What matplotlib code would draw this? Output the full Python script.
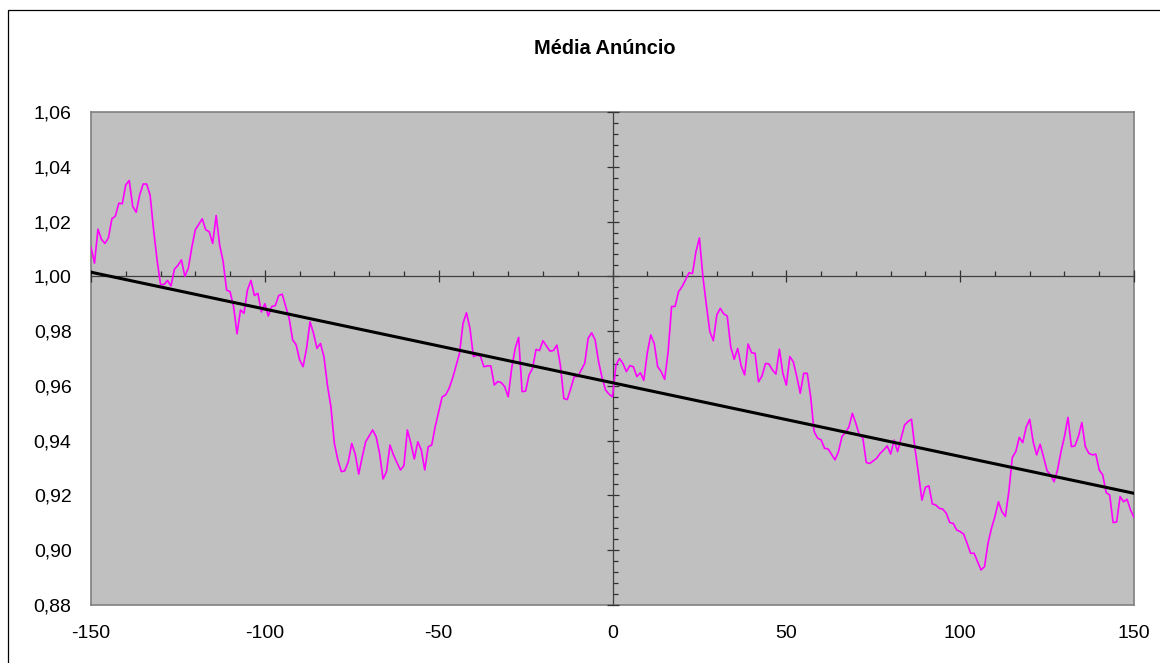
import matplotlib.pyplot as plt
import matplotlib.ticker as mticker
from matplotlib.patches import Rectangle
import numpy as np

plt.rcParams['font.family'] = ['Liberation Sans', 'DejaVu Sans']

# days relative to the announcement
dias = np.arange(-150, 151)

# average series
media = [
    1.0106, 1.0048, 1.0172, 1.0135, 1.0120, 1.0140, 1.0210, 1.0220, 1.0267, 1.0265,
    1.0334, 1.0350, 1.0255, 1.0234, 1.0297, 1.0337, 1.0337, 1.0297, 1.0170, 1.0060,
    0.9970, 0.9970, 0.9985, 0.9965, 1.0026, 1.0040, 1.0060, 1.0000, 1.0030, 1.0106,
    1.0170, 1.0190, 1.0210, 1.0170, 1.0163, 1.0120, 1.0222, 1.0115, 1.0054, 0.9950,
    0.9944, 0.9890, 0.9790, 0.9877, 0.9865, 0.9950, 0.9985, 0.9930, 0.9938, 0.9870,
    0.9900, 0.9855, 0.9890, 0.9893, 0.9930, 0.9935, 0.9890, 0.9847, 0.9768, 0.9750,
    0.9695, 0.9670, 0.9737, 0.9834, 0.9792, 0.9737, 0.9755, 0.9707, 0.9603, 0.9524,
    0.9390, 0.9330, 0.9287, 0.9290, 0.9323, 0.9390, 0.9351, 0.9278, 0.9340, 0.9396,
    0.9417, 0.9439, 0.9415, 0.9354, 0.9260, 0.9287, 0.9384, 0.9348, 0.9320, 0.9293,
    0.9309, 0.9439, 0.9390, 0.9333, 0.9396, 0.9366, 0.9293, 0.9378, 0.9384, 0.9451,
    0.9506, 0.9560, 0.9567, 0.9591, 0.9628, 0.9673, 0.9719, 0.9828, 0.9867, 0.9810,
    0.9707, 0.9712, 0.9709, 0.9670, 0.9673, 0.9673, 0.9603, 0.9616, 0.9612, 0.9597,
    0.9560, 0.9664, 0.9737, 0.9777, 0.9579, 0.9581, 0.9640, 0.9664, 0.9733, 0.9729,
    0.9765, 0.9746, 0.9727, 0.9729, 0.9749, 0.9676, 0.9554, 0.9550, 0.9591, 0.9634,
    0.9634, 0.9658, 0.9682, 0.9774, 0.9794, 0.9768, 0.9688, 0.9630, 0.9585, 0.9570,
    0.9560,
    0.9676, 0.9700, 0.9682, 0.9652, 0.9674, 0.9670, 0.9634, 0.9648, 0.9620, 0.9720,
    0.9786, 0.9755, 0.9670, 0.9652, 0.9624, 0.9725, 0.9890, 0.9890, 0.9944, 0.9962,
    0.9987, 1.0013, 1.0010, 1.0090, 1.0140, 0.9999, 0.9895, 0.9798, 0.9765, 0.9859,
    0.9883, 0.9863, 0.9855, 0.9743, 0.9697, 0.9737, 0.9673, 0.9640, 0.9753, 0.9721,
    0.9719, 0.9615, 0.9636, 0.9682, 0.9680, 0.9658, 0.9643, 0.9734, 0.9646, 0.9603,
    0.9707, 0.9688, 0.9634, 0.9573, 0.9646, 0.9646, 0.9560, 0.9433, 0.9409, 0.9403,
    0.9372, 0.9370, 0.9350, 0.9330, 0.9360, 0.9415, 0.9430, 0.9450, 0.9500, 0.9463,
    0.9421, 0.9410, 0.9320, 0.9317, 0.9326, 0.9336, 0.9354, 0.9366, 0.9381, 0.9351,
    0.9402, 0.9360, 0.9408, 0.9457, 0.9470, 0.9478, 0.9372, 0.9280, 0.9183, 0.9230,
    0.9235, 0.9169, 0.9165, 0.9153, 0.9150, 0.9135, 0.9101, 0.9098, 0.9074, 0.9068,
    0.9059, 0.9025, 0.8989, 0.8989, 0.8958, 0.8928, 0.8940, 0.9025, 0.9080, 0.9123,
    0.9177, 0.9141, 0.9123, 0.9214, 0.9339, 0.9360, 0.9412, 0.9393, 0.9450, 0.9478,
    0.9396, 0.9348, 0.9387, 0.9340, 0.9290, 0.9275, 0.9250, 0.9293, 0.9360, 0.9415,
    0.9485, 0.9378, 0.9381, 0.9415, 0.9466, 0.9378, 0.9354, 0.9348, 0.9351, 0.9293,
    0.9275, 0.9210, 0.9202, 0.9101, 0.9103, 0.9196, 0.9177, 0.9186, 0.9147, 0.9120,
]

# linear trend (Excel trendline)
coef = np.polyfit(dias, media, 1)
tendencia = np.polyval(coef, dias)

yticks = [0.88, 0.90, 0.92, 0.94, 0.96, 0.98, 1.00, 1.02, 1.04, 1.06]
xticks = [-150, -100, -50, 0, 50, 100, 150]

fig = plt.figure(figsize=(11.6, 6.63), dpi=100)
pos = [91 / 1160, 1 - 605 / 663, (1134 - 91) / 1160, (605 - 112) / 663]

# background axes: grey plot area and the outer labels
bg = fig.add_axes(pos)
bg.set_facecolor('#C0C0C0')
bg.set_xlim(-150, 150)
bg.set_ylim(0.88, 1.06)
bg.set_xticks(xticks)
bg.set_yticks(yticks)
bg.set_xticklabels([str(t) for t in xticks])
bg.set_yticklabels([f'{t:.2f}'.replace('.', ',') for t in yticks])
bg.tick_params(length=0, labelsize=14, pad=14)
bg.tick_params(axis='x', pad=14.5)
for s in bg.spines.values():
    s.set_color('#808080')
    s.set_linewidth(1.2)

# front axes: axes crossing at (0, 1.00) plus the data
ax = fig.add_axes(pos)
ax.patch.set_visible(False)
ax.spines['top'].set_visible(False)
ax.spines['right'].set_visible(False)
ax.spines['left'].set_position(('data', 0))
ax.spines['bottom'].set_position(('data', 1.0))
for s in ('left', 'bottom'):
    ax.spines[s].set_color('#404040')
    ax.spines[s].set_linewidth(0.9)
ax.xaxis.set_major_locator(mticker.MultipleLocator(50))
ax.xaxis.set_minor_locator(mticker.MultipleLocator(10))
ax.yaxis.set_major_locator(mticker.MultipleLocator(0.02))
ax.yaxis.set_minor_locator(mticker.MultipleLocator(0.004))
ax.tick_params(which='major', direction='inout', length=8.5, width=0.9,
               color='#303030', labelleft=False, labelbottom=False)
ax.tick_params(which='minor', direction='in', length=3.5, width=0.9,
               color='#303030')

ax.plot(dias, media, color='#FF00FF', linewidth=1.2, zorder=3)
ax.plot(dias, tendencia, color='black', linewidth=2.2, zorder=4)
ax.set_xlim(-150, 150)
ax.set_ylim(0.88, 1.06)

fig.text(605 / 1160, 1 - 48 / 663, 'Média Anúncio', ha='center', va='center',
         fontsize=14.4, fontweight='bold')

# chart area border
fig.patches.append(Rectangle((7.5 / 1160, -0.1), 1.2, 1 - 10.5 / 663 + 0.1,
                             transform=fig.transFigure, fill=False,
                             edgecolor='black', linewidth=0.9))

fig.savefig('out.png', dpi=100)
